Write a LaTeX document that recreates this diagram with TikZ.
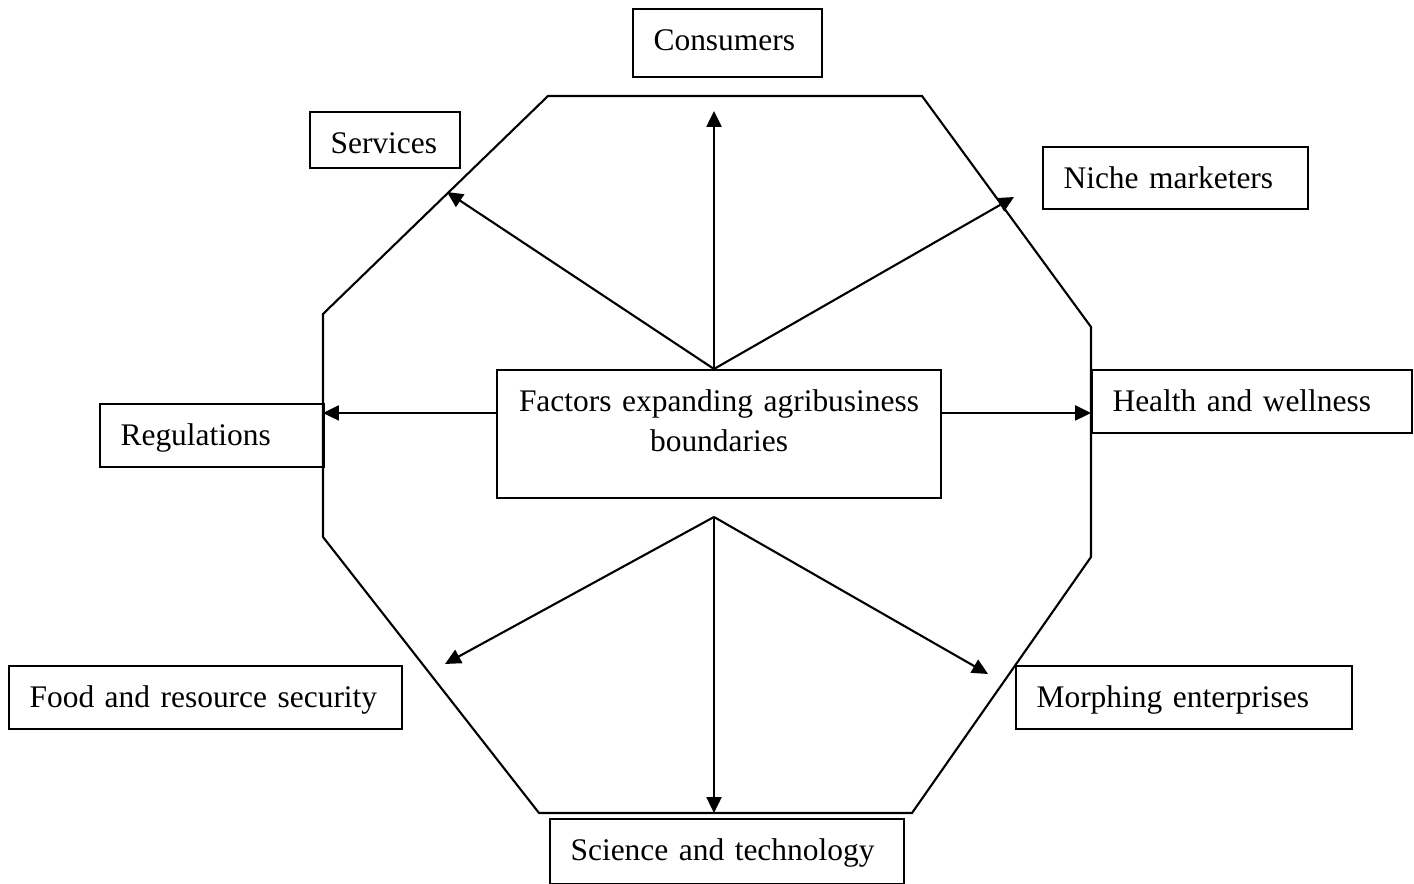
\documentclass[tikz,border=0pt]{standalone}
\usepackage{fontspec}
\setmainfont{Liberation Serif}
\usetikzlibrary{arrows.meta}
\providecommand{\boxfontsize}{\fontsize{17.9pt}{23.3pt}\selectfont\hyphenpenalty=10000}

\begin{document}
\begin{tikzpicture}[
    factor/.style={draw,line width=1.2pt,anchor=north west,inner xsep=0.41cm,inner ysep=0pt,text height=0.82cm,align=left,font=\boxfontsize},
    push/.style={line width=1.2pt,-{Triangle[length=9pt,width=8.5pt]}}
  ]
    \pgfmathsetmacro{\pagewidth}{28.28}
    \pgfmathsetmacro{\pageheight}{17.68}
    \pgfmathsetmacro{\midx}{14.28}   % the spokes leave the hub here
    \pgfmathsetmacro{\sidey}{9.42}
    \useasboundingbox (0,0) rectangle (\pagewidth,\pageheight);
    % the octagon round the hub
    \draw[line width=1.2pt,line join=miter] (10.96,15.76) -- (18.44,15.76) -- (21.82,11.14) -- (21.82,6.54)
      -- (18.24,1.42) -- (10.78,1.42) -- (6.46,6.94) -- (6.46,11.40) -- cycle;
    \node[factor,align=center,inner xsep=0.24cm,text width=8.4cm,text depth=1.74cm] (hub) at (9.92,10.30) {Factors expanding agribusiness\\boundaries};
    \node[factor,text width=2.96cm,text depth=0.54cm] (consumers) at (12.64,17.52) {Consumers};
    \node[factor,text width=2.18cm,text depth=0.30cm] (services) at (6.18,15.46) {Services};
    \node[factor,text width=4.48cm,text depth=0.42cm] (niche) at (20.84,14.76) {Niche marketers};
    \node[factor,text width=5.58cm,text depth=0.44cm] (health) at (21.82,10.30) {Health and wellness};
    \node[factor,text width=3.66cm,text depth=0.44cm] (regulations) at (1.98,9.62) {Regulations};
    \node[factor,text width=7.04cm,text depth=0.44cm] (food) at (0.16,4.38) {Food and resource security};
    \node[factor,text width=5.90cm,text depth=0.44cm] (morphing) at (20.30,4.38) {Morphing enterprises};
    \node[factor,text width=6.26cm,text depth=0.48cm] (science) at (10.98,1.32) {Science and technology};
    % where the spokes start and end
    \coordinate (hubtop) at (\midx,10.30);
    \coordinate (hubfoot) at (\midx,7.34);
    \coordinate (consumerstip) at (\midx,15.46);
    \coordinate (servicestip) at (8.94,13.84);
    \coordinate (nichetip) at (20.28,13.74);
    \coordinate (regulationstip) at (6.46,\sidey);
    \coordinate (healthtip) at (21.82,\sidey);
    \coordinate (sciencetip) at (\midx,1.42);
    \coordinate (foodtip) at (8.90,4.40);
    \coordinate (morphingtip) at (19.76,4.20);
    \foreach \tip in {consumerstip,servicestip,nichetip}
      \draw[push] (hubtop) -- (\tip);
    \foreach \tip in {sciencetip,foodtip,morphingtip}
      \draw[push] (hubfoot) -- (\tip);
    \draw[push] (hub.west |- regulationstip) -- (regulationstip);
    \draw[push] (hub.east |- healthtip) -- (healthtip);
\end{tikzpicture}
\end{document}
